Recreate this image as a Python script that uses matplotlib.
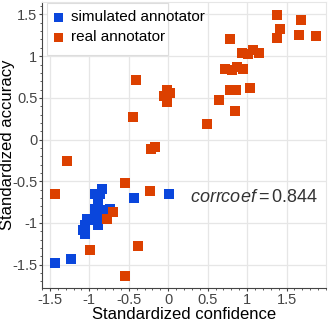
import numpy as np
import matplotlib
matplotlib.use("Agg")
import matplotlib.pyplot as plt
from matplotlib.ticker import MultipleLocator
from matplotlib.patches import Rectangle

plt.rcParams['font.family'] = ['Liberation Sans', 'DejaVu Sans']
plt.rcParams['axes.unicode_minus'] = False
plt.rcParams['mathtext.fontset'] = 'custom'
plt.rcParams['mathtext.it'] = 'Liberation Sans:italic'
plt.rcParams['mathtext.rm'] = 'Liberation Sans'

# simulated annotator (blue)
sim_conf = [-0.844, -0.865, -0.929, -0.887, -0.929, -0.738, -0.865, -0.907, -0.887,
            -1.034, -1.056, -1.078, -1.056, -0.887, -1.438, -1.238, -0.433, 0.004,
            -0.98, -0.80]
sim_acc = [-0.588, -0.647, -0.647, -0.748, -0.827, -0.827, -0.868, -0.928, -1.007,
           -0.947, -1.030, -1.088, -1.127, -1.030, -1.475, -1.427, -0.695, -0.647,
           -0.96, -0.84]

# real annotator (orange)
real_conf = [-1.289, -1.434, -0.551, -0.229, -0.704, -0.780, -0.992, -0.386, -0.551,
             -0.216, -0.165, -0.411, -0.449, -0.017, 0.025, -0.060, -0.017, 0.492,
             0.640, 0.852, 0.780, 0.861, 1.031, 0.725, 0.810, 0.874, 0.945, 0.780,
             0.938, 1.014, 1.078, 1.149, 1.378, 1.688, 1.416, 1.374, 1.663, 1.879]
real_acc = [-0.257, -0.647, -0.520, -0.616, -0.868, -0.956, -1.327, -1.279, -1.637,
            -0.113, -0.089, 0.711, 0.271, 0.591, 0.559, 0.519, 0.451, 0.183,
            0.470, 0.343, 0.591, 0.600, 0.619, 0.843, 0.831, 0.871, 0.843, 1.203,
            1.038, 1.031, 1.071, 1.043, 1.499, 1.430, 1.331, 1.218, 1.254, 1.242]

corr_txt = r'$\mathit{corrcoef}=0.844$'

fig = plt.figure(figsize=(3.31, 3.24), dpi=100)
ax = fig.add_axes([0.127, 0.111, 0.858, 0.883])

ax.scatter(sim_conf, sim_acc, marker='s', s=52, color='#0a46dc', edgecolors='none',
           label='simulated annotator', zorder=3)
ax.scatter(real_conf, real_acc, marker='s', s=52, color='#dc4000', edgecolors='none',
           label='real annotator', zorder=3)

ax.set_xlim(-1.6, 2.0)
ax.set_ylim(-1.78, 1.65)
ax.set_xticks(np.arange(-1.5, 1.51, 0.5))
ax.set_xticklabels(['-1.5', '-1', '-0.5', '0', '0.5', '1', '1.5'])
ax.set_yticks(np.arange(-1.5, 1.51, 0.5))
ax.set_yticklabels(['-1.5', '-1', '-0.5', '0', '0.5', '1', '1.5'])
ax.xaxis.set_minor_locator(MultipleLocator(0.1))
ax.yaxis.set_minor_locator(MultipleLocator(0.1))
ax.tick_params(which='major', length=2.3, width=0.8, color='#444444', labelsize=10.5,
               labelcolor='#444444', pad=1)
ax.tick_params(which='minor', length=1.5, width=0.6, color='#444444')
ax.grid(True, which='major', color='#e6e6e6', linewidth=0.9, zorder=0)
ax.set_axisbelow(True)
for s in ['top', 'right']:
    ax.spines[s].set_color('#e6e6e6')
for s in ['left', 'bottom']:
    ax.spines[s].set_color('#444444')
    ax.spines[s].set_linewidth(0.8)

ax.set_xlabel('Standardized confidence', fontsize=12)
ax.set_ylabel('Standardized accuracy', fontsize=12)
ax.xaxis.set_label_coords(0.5, -0.066)
ax.yaxis.set_label_coords(-0.095, 0.5)

ax.text(0.521, 0.315, corr_txt, transform=ax.transAxes, fontsize=13, color='#333333',
        ha='left', va='center')

leg = ax.legend(loc='upper left', bbox_to_anchor=(0.005, 1.008), frameon=False,
                fontsize=11, handlelength=0.6, handletextpad=0.5, labelspacing=0.4,
                borderaxespad=0.3, markerscale=0.95)
ax.add_patch(Rectangle((0.018, 0.815), 0.426, 0.182, transform=ax.transAxes,
                       facecolor='white', edgecolor='#dddddd', linewidth=0.8, zorder=4))
leg.set_zorder(5)

fig.savefig('out.png', dpi=100)
